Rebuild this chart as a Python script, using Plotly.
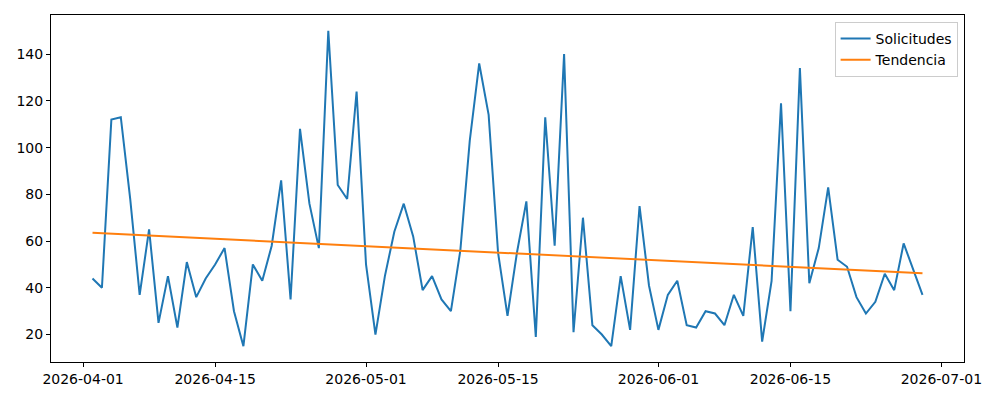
import numpy as np
import pandas as pd
import plotly.graph_objects as go

start_date = "2026-04-02"
solicitudes = [44, 40, 112, 113, 78, 37, 65, 25, 45, 23,
               51, 36, 44, 50, 57, 30, 15, 50, 43, 58,
               86, 35, 108, 76, 57, 150, 84, 78, 124, 50,
               20, 45, 64, 76, 62, 39, 45, 35, 30, 56,
               103, 136, 114, 55, 28, 55, 77, 19, 113, 58,
               140, 21, 70, 24, 20, 15, 45, 22, 75, 41,
               22, 37, 43, 24, 23, 30, 29, 24, 37, 28,
               66, 17, 43, 119, 30, 134, 42, 57, 83, 52,
               49, 36, 29, 34, 46, 39, 59, 48, 37]
tick_dates = ["2026-04-01", "2026-04-15", "2026-05-01", "2026-05-15",
              "2026-06-01", "2026-06-15", "2026-07-01"]
y_ticks = [20, 40, 60, 80, 100, 120, 140]

dates = pd.date_range(start_date, periods=len(solicitudes), freq="D")
idx = np.arange(len(solicitudes))
slope, intercept = np.polyfit(idx, solicitudes, 1)
tendencia = slope * idx + intercept

fig = go.Figure()
fig.add_trace(go.Scatter(x=dates, y=solicitudes, mode="lines", name="Solicitudes",
                         line=dict(color="#1f77b4", width=2)))
fig.add_trace(go.Scatter(x=dates, y=tendencia, mode="lines", name="Tendencia",
                         line=dict(color="#ff7f0e", width=2)))

span = dates[-1] - dates[0]
fig.update_layout(
    width=1000, height=400,
    margin=dict(l=51, r=36, t=15, b=38),
    paper_bgcolor="white", plot_bgcolor="white",
    font=dict(family="DejaVu Sans", size=14, color="black"),
    showlegend=True,
    legend=dict(x=0.993, y=0.98, xanchor="right", yanchor="top",
                bgcolor="rgba(255,255,255,0.8)", bordercolor="#cccccc", borderwidth=1,
                font=dict(size=14), tracegroupgap=0),
)
fig.update_xaxes(
    range=[dates[0] - span * 0.05, dates[-1] + span * 0.05],
    tickvals=pd.to_datetime(tick_dates), tickformat="%Y-%m-%d",
    showline=True, linecolor="black", linewidth=1, mirror=True,
    ticks="outside", ticklen=4, tickcolor="black", showgrid=False, zeroline=False,
)
ymin, ymax = min(solicitudes), max(solicitudes)
yr = ymax - ymin
fig.update_yaxes(
    range=[ymin - 0.05 * yr, ymax + 0.05 * yr],
    tickvals=y_ticks,
    showline=True, linecolor="black", linewidth=1, mirror=True,
    ticks="outside", ticklen=4, tickcolor="black", showgrid=False, zeroline=False,
)
fig.write_html("out.html")
